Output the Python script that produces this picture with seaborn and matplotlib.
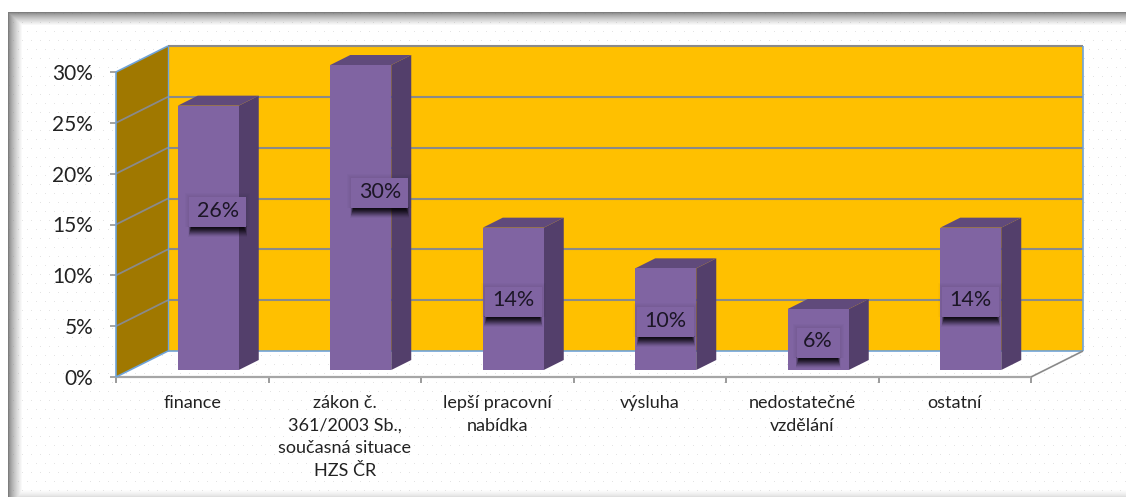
import numpy as np
import pandas as pd
import matplotlib
matplotlib.use("Agg")
import matplotlib.pyplot as plt
from matplotlib.patches import Polygon, Rectangle
from matplotlib.transforms import Affine2D, IdentityTransform
import seaborn as sns

categories = ["finance", "zákon č.\n361/2003 Sb.,\nsoučasná situace\nHZS ČR",
              "lepší pracovní\nnabídka", "výsluha", "nedostatečné\nvzdělání", "ostatní"]
values = [26, 30, 14, 10, 6, 14]
y_ticks = [0, 5, 10, 15, 20, 25, 30]
label_dx = [9.5, 19, 0, 0, 0, 0]
label_dy = [28.5, 27.5, 0, 0, 0, 0]

W, H = 1126, 497
sns.set_theme(style="white")
plt.rcParams["font.family"] = ["Lato", "DejaVu Sans"]

FRONT, SIDE, TOP = "#8064A2", "#533F6B", "#604A7B"
GRID, BLUE = "#8A8A8A", "#6FA3D8"
TXT = "#222222"

fig = plt.figure(figsize=(W / 100, H / 100), dpi=100, facecolor="white")

# textured frame background
bg = fig.add_axes([0, 0, 1, 1], zorder=0)
yy, xx = np.mgrid[0:H, 0:W]
img = np.full((H, W), 255.0)
rows = yy // 9
dots = ((xx + 4 * (rows % 2)) % 9 == 4) & (yy % 9 == 4)
img[dots] = 228
fade_top = np.clip((yy - 12) / 13.0, 0, 1) ** 0.7
fade_left = np.clip((xx - 8) / 14.0, 0, 1) ** 0.7
fade_bottom = np.clip((H - 1 - yy) / 7.0, 0, 1) ** 0.7
shade = np.minimum(np.minimum(fade_top, fade_left), 0.75 + 0.25 * fade_bottom)
img = 125 + (img - 125) * shade
img[yy < 12] = 255
img[xx < 8] = 255
bg.imshow(img, cmap="gray", vmin=0, vmax=255, aspect="auto", interpolation="nearest")
bg.axis("off")

# front plane of the chart box
ax = fig.add_axes([116 / W, (H - 377) / H, 915 / W, 305 / H], zorder=1)
ax.patch.set_alpha(0)
df = pd.DataFrame({"kategorie": categories, "podil": values})
sns.barplot(data=df, x="kategorie", y="podil", ax=ax, color=FRONT, saturation=1,
            width=0.4, zorder=5, linewidth=0, edgecolor="none")
ax.set_xlim(-0.5, 5.5)
ax.set_ylim(0, 30)
ax.set_xlabel("")
ax.set_ylabel("")
ax.autoscale(False)

DX, DY = 52, 26          # full depth of the box, pixels
BX, BY = 16, 7           # bar front relative to the front plane
SX, SY = 20, 10          # bar depth


def P(x, v, dx=0.0, dy=0.0):
    return ax.transData.transform((x, v)) + np.array([dx, dy])


def poly(points, color, z):
    ax.add_patch(Polygon(points, closed=True, facecolor=color, edgecolor="none",
                         linewidth=0, transform=IdentityTransform(),
                         clip_on=False, zorder=z))


def line(a, b, color, lw, z):
    ax.plot([a[0], b[0]], [a[1], b[1]], color=color, lw=lw, transform=IdentityTransform(),
            clip_on=False, zorder=z, solid_capstyle="butt")


def rect(l, b, w, h, color, alpha, z):
    ax.add_patch(Rectangle((l, b), w, h, facecolor=color, alpha=alpha, lw=0,
                           transform=IdentityTransform(), clip_on=False, zorder=z))


xl, xr = -0.5, 5.5
poly([P(xl, 0, DX, DY), P(xr, 0, DX, DY), P(xr, 30, DX, DY), P(xl, 30, DX, DY)], "#FFC000", 1)
poly([P(xl, 0), P(xl, 0, DX, DY), P(xl, 30, DX, DY), P(xl, 30)], "#A07800", 1)

for t in y_ticks[1:-1]:
    line(P(xl, t), P(xl, t, DX, DY), GRID, 1.3, 2)
    line(P(xl, t, DX, DY), P(xr, t, DX, DY), GRID, 1.5, 2)
line(P(xl, 30, DX, DY), P(xr, 30, DX, DY), GRID, 1.5, 2)
line(P(xl, 30), P(xl, 30, DX, DY), BLUE, 1.2, 3)
line(P(xl, 0), P(xl, 30), BLUE, 1.2, 3)
line(P(xl, 0, DX, DY), P(xl, 30, DX, DY), BLUE, 1.0, 3)
line(P(xr, 0, DX, DY), P(xr, 30, DX, DY), BLUE, 1.2, 3)
line(P(xl, 0, DX, DY), P(xr, 0, DX, DY), BLUE, 1.2, 3)
line(P(xl, 0), P(xl, 0, DX, DY), BLUE, 1.2, 3)
line(P(xr, 0), P(xr, 0, DX, DY), GRID, 1.2, 3)

# move front faces onto their plane, then add side and top faces
shift = Affine2D().translate(BX, BY)
half = 0.2
for i, (bar, v) in enumerate(zip(ax.patches, values)):
    bar.set_transform(ax.transData + shift)
    bar.set_clip_on(False)
    bar.set_edgecolor("none")
    bar.set_linewidth(0)
    l, r = i - half, i + half
    a = P(r, 0, BX, BY)
    b = P(r, v, BX, BY)
    c = P(l, v, BX, BY)
    poly([a, a + (SX, SY), b + (SX, SY), b], SIDE, 4)
    poly([c, b, b + (SX, SY), c + (SX, SY)], TOP, 4)

# data labels with a soft shadow
for i, v in enumerate(values):
    cx, mid = P(i, v / 2, BX, BY)
    cx += label_dx[i]
    mid += label_dy[i]
    bw = 57 if v >= 10 else 43
    top, bottom = mid + 12, mid - 18
    l, r = cx - bw / 2, cx + bw / 2
    # faint halo round the box
    for e in (4, 3, 2, 1):
        rect(l - e, bottom, bw + 2 * e, top - bottom + e, "black", 0.014, 6)
    # shadow under the box: strong at the box edge, fading downwards and sideways
    for k in range(10):
        drop = 10 - k
        inset = k * 0.35 - 1
        rect(l + inset, bottom - drop, bw - 2 * inset, drop + 1, "black", 0.04 + 0.03 * k, 6)
    rect(l, bottom, bw, top - bottom, FRONT, 1.0, 7)
    ax.text(cx, mid - 1.5, f"{v}%", ha="center", va="center", fontsize=15.5, color="#1C1626",
            transform=IdentityTransform(), zorder=8)

# axes
sns.despine(ax=ax, top=True, right=True)
ax.spines["left"].set_visible(False)
ax.spines["bottom"].set_color("#A6A6A6")
ax.spines["bottom"].set_linewidth(1.6)
ax.set_yticks(y_ticks)
ax.set_yticklabels([f"{t}%" for t in y_ticks], fontsize=15, color=TXT)
ax.tick_params(axis="y", left=True, length=4.5, width=1.1, color=GRID, pad=12)
ax.set_xticks(range(len(categories)))
ax.set_xticklabels(categories, fontsize=13, color=TXT, linespacing=1.5, ha="center", va="top")
ax.set_xticks(np.arange(-0.5, 6, 1), minor=True)
ax.tick_params(axis="x", which="major", bottom=False, length=0, pad=13)
ax.tick_params(axis="x", which="minor", bottom=True, length=4, width=1.2, color=GRID)

fig.savefig("out.png", dpi=100, facecolor="white")
